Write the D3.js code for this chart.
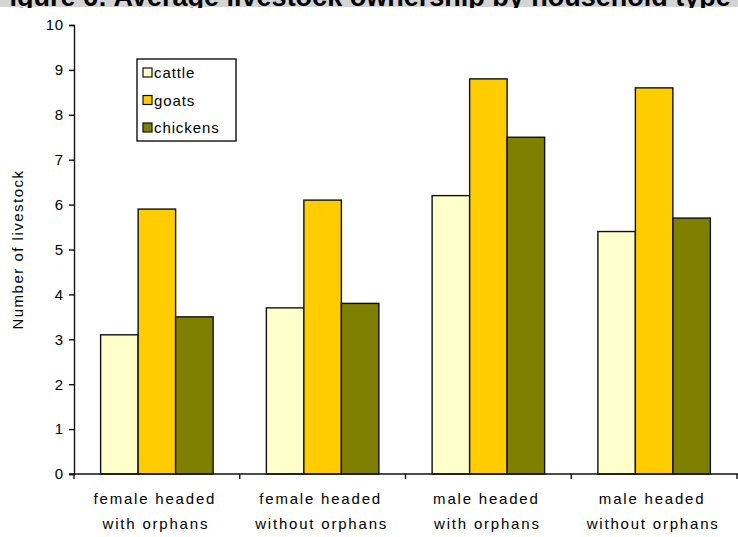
<!DOCTYPE html>
<html>
<head>
<meta charset="utf-8">
<script src="https://cdn.jsdelivr.net/npm/d3@7"></script>
<style>
  html, body { margin: 0; padding: 0; background: #ffffff; }
  svg { display: block; font-family: "Liberation Sans", Arial, sans-serif; }
</style>
</head>
<body>
<svg id="chart" width="738" height="537"></svg>
<script>
// Household types (two-line category labels)
const categories = [
  ["female headed", "with orphans"],
  ["female headed", "without orphans"],
  ["male headed", "with orphans"],
  ["male headed", "without orphans"]
];
const seriesNames = ["cattle", "goats", "chickens"];
const cattle   = [3.1, 3.7, 6.2, 5.4];
const goats    = [5.9, 6.1, 8.8, 8.6];
const chickens = [3.5, 3.8, 7.5, 5.7];
const yTicks = [0, 1, 2, 3, 4, 5, 6, 7, 8, 9, 10];
const colors = ["#ffffcc", "#ffcc00", "#808000"];
const titleText = "Figure 6: Average livestock ownership by household type (";

const seriesValues = [cattle, goats, chickens];
const svg = d3.select("#chart");

const margin = { left: 74, right: 1, top: 25, bottom: 63 };
const W = 738, H = 537;
const ink = "#111";

// Title strip at the top (only its lower edge falls inside the page)
svg.append("clipPath").attr("id", "titleClip")
  .append("rect").attr("x", 0).attr("y", 0).attr("width", W).attr("height", 8);
svg.append("rect").attr("x", 0).attr("y", 0).attr("width", W).attr("height", 7)
  .attr("fill", "#d4d4d4");
svg.append("text").attr("x", -7).attr("y", 6)
  .attr("clip-path", "url(#titleClip)")
  .attr("font-size", 27).attr("font-weight", "bold").attr("fill", "#000")
  .text(titleText);

const x0 = d3.scaleBand()
  .domain(d3.range(categories.length))
  .range([margin.left, W - margin.right])
  .paddingInner(0).paddingOuter(0);

const x1 = d3.scaleBand()
  .domain(d3.range(seriesNames.length))
  .range([0, x0.bandwidth()])
  .paddingInner(0).paddingOuter(0.71);

const y = d3.scaleLinear().domain([0, 10]).range([H - margin.bottom, margin.top]);

// Bars
const groups = svg.append("g").selectAll("g")
  .data(categories)
  .join("g")
  .attr("transform", (d, i) => `translate(${x0(i)},0)`);

groups.selectAll("rect")
  .data((d, i) => seriesValues.map((vals, s) => ({ s, v: vals[i] })))
  .join("rect")
  .attr("x", d => x1(d.s))
  .attr("y", d => y(d.v))
  .attr("width", x1.bandwidth())
  .attr("height", d => y(0) - y(d.v))
  .attr("fill", d => colors[d.s])
  .attr("stroke", ink)
  .attr("stroke-width", 1.4);

// Y axis
const yAxis = d3.axisLeft(y).tickValues(yTicks).tickSize(5).tickPadding(5)
  .tickFormat(d3.format("d"));
const gy = svg.append("g").attr("transform", `translate(${margin.left},0)`).call(yAxis);
gy.select(".domain").attr("stroke", ink).attr("stroke-width", 1.4);
gy.selectAll(".tick line").attr("stroke", ink).attr("stroke-width", 1.4);
gy.selectAll(".tick text").attr("font-size", 15).attr("fill", "#000")
  .attr("letter-spacing", 0.8)
  .attr("font-family", "Liberation Sans, Arial, sans-serif");

// X axis: ticks at category boundaries
const boundaries = d3.range(categories.length + 1).map(i =>
  i < categories.length ? x0(i) : x0(categories.length - 1) + x0.bandwidth());
const gx = svg.append("g");
gx.append("line")
  .attr("x1", margin.left - 5).attr("x2", W)
  .attr("y1", y(0)).attr("y2", y(0))
  .attr("stroke", ink).attr("stroke-width", 1.4);
gx.selectAll("line.tk").data(boundaries).join("line").attr("class", "tk")
  .attr("x1", d => d).attr("x2", d => d)
  .attr("y1", y(0)).attr("y2", y(0) + 5)
  .attr("stroke", ink).attr("stroke-width", 1.4);

const labels = gx.selectAll("text").data(categories).join("text")
  .attr("text-anchor", "middle")
  .attr("font-size", 15).attr("letter-spacing", 1.8).attr("fill", "#000");
labels.append("tspan")
  .attr("x", (d, i) => x0(i) + x0.bandwidth() / 2 - 2).attr("y", y(0) + 30)
  .text(d => d[0]);
labels.append("tspan")
  .attr("x", (d, i) => x0(i) + x0.bandwidth() / 2 - 1).attr("y", y(0) + 55)
  .text(d => d[1]);

// Y axis title
svg.append("text")
  .attr("transform", `translate(23,${(y(0) + y(10)) / 2}) rotate(-90)`)
  .attr("text-anchor", "middle").attr("font-size", 15).attr("fill", "#000")
  .attr("letter-spacing", 1.5)
  .text("Number of livestock");

// Legend
const lg = svg.append("g").attr("transform", "translate(137,59)");
lg.append("rect").attr("width", 99).attr("height", 82)
  .attr("fill", "#fff").attr("stroke", ink).attr("stroke-width", 1.4);
const items = lg.selectAll("g").data(seriesNames).join("g")
  .attr("transform", (d, i) => `translate(6,${14 + i * 27.5})`);
items.append("rect").attr("x", 0).attr("y", -5).attr("width", 9).attr("height", 9)
  .attr("fill", (d, i) => colors[i]).attr("stroke", ink).attr("stroke-width", 1.2);
items.append("text").attr("x", 11).attr("y", 5).attr("font-size", 15).attr("fill", "#000")
  .attr("letter-spacing", 0.9)
  .text(d => d);
</script>
</body>
</html>
